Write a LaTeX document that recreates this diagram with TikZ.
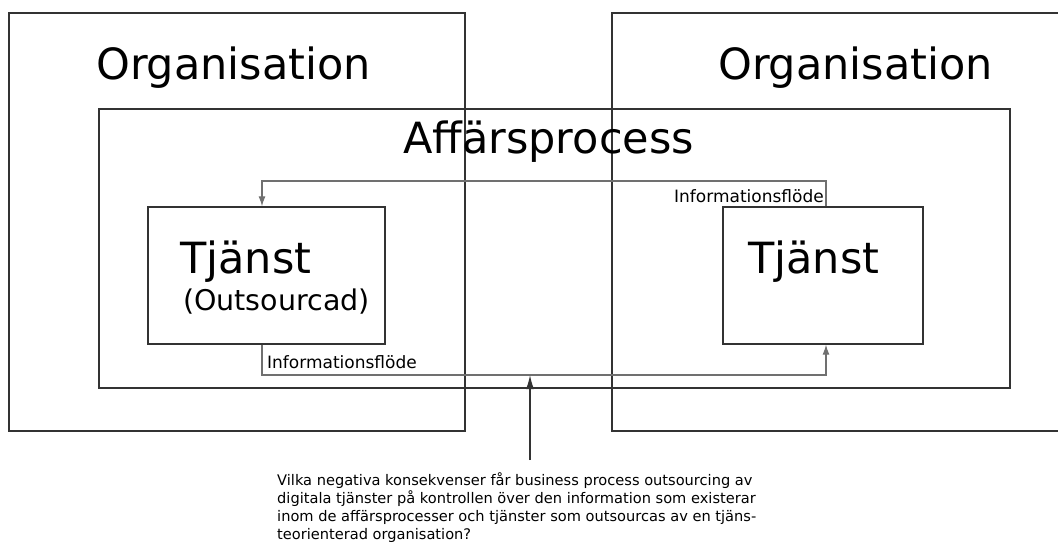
\documentclass[tikz,border=0pt]{standalone}
\usepackage{fontspec}
\setmainfont{DejaVu Sans}
\usetikzlibrary{arrows.meta}
\definecolor{boxline}{HTML}{333333}
\definecolor{flowline}{HTML}{707070}

\begin{document}
\begin{tikzpicture}[x=1pt, y=-1pt,
    box/.style={draw=boxline, line width=1.4pt, inner sep=0pt},
    big/.style={font=\fontsize{43}{48}\selectfont, inner sep=0pt},
    small/.style={font=\fontsize{17}{20}\selectfont, inner sep=0pt},
    flow/.style={draw=flowline, line width=1.1pt, -{Latex[length=10pt,width=7pt]}},
    ask/.style={draw=boxline, line width=1.3pt, -{Latex[length=14pt,width=8pt]}}]
    \useasboundingbox (0,0) rectangle (1058,549);
    \clip (0,0) rectangle (1058,549);
    % the two organisations and the process between them
    \node[box, minimum width=456pt, minimum height=418pt] (orgA) at (237,222) {};
    \node[box, minimum width=456pt, minimum height=418pt] (orgB) at (840,222) {};
    \node[box, minimum width=911pt, minimum height=279pt] (process) at (554.5,248.5) {};
    \node[big, anchor=base west] (orgAname) at (96,79) {Organisation};
    \node[big, anchor=base west] (orgBname) at (718,79) {Organisation};
    \node[big, anchor=base west] (processname) at (403,153) {Affärsprocess};
    % services
    \node[box, minimum width=237pt, minimum height=137pt] (tjA) at (266.5,275.5) {};
    \node[box, minimum width=200pt, minimum height=137pt] (tjB) at (823,275.5) {};
    \node[big, anchor=base west] (tjAname) at (180,273) {Tjänst};
    \node[font=\fontsize{28.5}{32}\selectfont, inner sep=0pt, anchor=base west] (tjAnote) at (183,310) {(Outsourcad)};
    \node[big, anchor=base west] (tjBname) at (748,273) {Tjänst};
    % information flows
    \coordinate (upper) at (0,181);
    \coordinate (lower) at (0,375);
    \draw[flow] ([xshift=3pt]tjB.north) -- ([xshift=3pt]tjB.north |- upper) -| ([xshift=-4.5pt]tjA.north);
    \draw[flow] ([xshift=-4.5pt]tjA.south) -- ([xshift=-4.5pt]tjA.south |- lower) -| ([xshift=3pt]tjB.south);
    \node[small, anchor=base east] (flowup) at (824,202) {Informationsflöde};
    \node[small, anchor=base west] (flowdown) at (267,368) {Informationsflöde};
    % research question
    \coordinate (qstart) at (530,460);
    \draw[ask] (qstart) -- (qstart |- lower);
    \node[font=\fontsize{14.6}{18}\selectfont, inner sep=0pt, align=left, anchor=north west] (question) at (277,472)
        {Vilka negativa konsekvenser får business process outsourcing av\\
         digitala tjänster på kontrollen över den information som existerar\\
         inom de affärsprocesser och tjänster som outsourcas av en tjäns-\\
         teorienterad organisation?};
\end{tikzpicture}
\end{document}
